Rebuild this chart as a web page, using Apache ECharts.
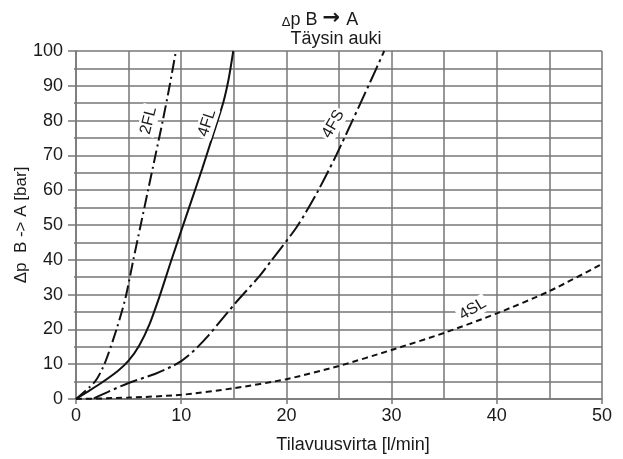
<!DOCTYPE html>
<html>
<head>
<meta charset="utf-8">
<script src="https://cdn.jsdelivr.net/npm/echarts@6/dist/echarts.min.js"></script>
<style>
html,body{margin:0;padding:0;background:#fff;}
#c{width:623px;height:459px;}
</style>
</head>
<body>
<div id="c"></div>
<script>
// ---- data ----
const flow2FL = [0, 1.8, 2.7, 3.85, 4.7, 5.45, 6.15, 6.85, 7.55, 8.25, 8.9, 9.5];
const dp2FL   = [0, 5, 10, 20, 29, 40, 50, 60, 70, 80, 90, 100];

const flow4FL = [0, 1, 2.5, 4, 5, 6, 7, 8, 9, 10, 11, 12, 13, 14, 14.5, 14.95];
const dp4FL   = [0, 1.9, 4.8, 8.1, 11, 15.3, 21.6, 30, 39.3, 48.3, 57.2, 66.2, 75.6, 85.2, 91.8, 100];

const flow4FS = [1.7, 3, 5, 7.5, 9, 10, 11.25, 12.6, 14, 15.45, 17.35, 18.5, 21, 22.95, 24.65, 26.2, 27.8, 29.3];
const dp4FS   = [0.2, 2, 4.6, 7.2, 9.2, 10.9, 14, 18.3, 23.4, 28.6, 35, 39.5, 49.5, 59.5, 69.5, 79.5, 90, 100];

const flow4SL = [0, 5, 10, 15, 20, 25, 30, 35, 40, 45, 50];
const dp4SL   = [0, 0.4, 1.2, 3.1, 5.7, 9.5, 14.1, 19, 24.6, 31, 38.8];

const curveNames = ['2FL', '4FL', '4FS', '4SL'];
const labelFlow  = [6.9, 12.45, 24.45, 37.7];
const labelDp    = [80, 79.3, 79, 25.8];
const labelAngle = [76, 72, 60, 31];

const xTickMin = 0, xTickMax = 50, xTickStep = 10;
const yTickMin = 0, yTickMax = 100, yTickStep = 10;

const titleLine2 = 'Täysin auki';
const xName = 'Tilavuusvirta [l/min]';
const yName = 'Δp  B -> A [bar]';

// ---- build ----
const pairs = (xs, ys) => xs.map((x, i) => [x, ys[i]]);
const FONT = '"Liberation Sans", Arial, Helvetica, sans-serif';
const gridColor = '#777';
const textColor = '#1a1a1a';

const dashTypes = [[13, 4, 2, 4], 'solid', [18, 4, 3, 4], [6, 4]];
const datasets = [pairs(flow2FL, dp2FL), pairs(flow4FL, dp4FL), pairs(flow4FS, dp4FS), pairs(flow4SL, dp4SL)];

const series = curveNames.map((n, i) => ({
  name: n,
  type: 'line',
  data: datasets[i],
  smooth: 0.25,
  symbol: 'none',
  z: 3,
  lineStyle: { color: '#111', width: 2, type: dashTypes[i] },
  markPoint: {
    silent: true,
    symbol: 'circle',
    symbolSize: 0,
    z: 5,
    data: [{ coord: [labelFlow[i], labelDp[i]], value: n }],
    label: {
      show: true,
      position: 'inside',
      formatter: n,
      rotate: labelAngle[i],
      color: textColor,
      fontSize: 16,
      fontFamily: FONT,
      backgroundColor: '#fff',
      padding: [1, 2]
    }
  }
}));

const chart = echarts.init(document.getElementById('c'), null, { renderer: 'canvas' });
chart.setOption({
  animation: false,
  backgroundColor: '#fff',
  title: [
    {
      text: '{d|Δ}{t|p B }{a|→}{t| A}',
      left: 315, top: 2, textAlign: 'center',
      textStyle: {
        fontFamily: FONT, fontSize: 18, fontWeight: 'normal', color: textColor,
        rich: {
          t: { fontSize: 18, fontFamily: FONT, color: textColor, verticalAlign: 'bottom', lineHeight: 20 },
          d: { fontSize: 13, fontFamily: FONT, color: textColor, verticalAlign: 'bottom', lineHeight: 20 },
          a: { fontSize: 21, fontWeight: 'bold', fontFamily: '"DejaVu Sans", sans-serif', color: textColor, verticalAlign: 'bottom', lineHeight: 22, padding: [0, 1, 0, 0] }
        }
      }
    },
    {
      text: titleLine2,
      left: 331, top: 25, textAlign: 'center',
      textStyle: { fontFamily: FONT, fontSize: 18, fontWeight: 'normal', color: textColor }
    }
  ],
  grid: { left: 76, right: 21, top: 51, bottom: 60, containLabel: false },
  xAxis: {
    type: 'value',
    min: xTickMin, max: xTickMax, interval: xTickStep,
    name: xName, nameLocation: 'middle', nameGap: 37,
    nameTextStyle: { fontFamily: FONT, fontSize: 18, color: textColor, padding: [0, 0, 0, 28] },
    axisLine: { show: true, lineStyle: { color: gridColor, width: 1.5 } },
    axisTick: { show: true, inside: false, length: 5, lineStyle: { color: gridColor, width: 1.5 } },
    minorTick: { show: false, splitNumber: 2 },
    axisLabel: { fontFamily: FONT, fontSize: 18, color: textColor, margin: 8 },
    splitLine: { show: true, lineStyle: { color: gridColor, width: 1.5 } },
    minorSplitLine: { show: true, lineStyle: { color: gridColor, width: 1.5 } }
  },
  yAxis: {
    type: 'value',
    min: yTickMin, max: yTickMax, interval: yTickStep,
    name: yName, nameLocation: 'middle', nameGap: 46, nameMoveOverlap: false,
    nameTextStyle: { fontFamily: FONT, fontSize: 17, color: textColor },
    axisLine: { show: true, lineStyle: { color: gridColor, width: 1.5 } },
    axisTick: { show: true, inside: false, length: 8, lineStyle: { color: gridColor, width: 1.5 } },
    minorTick: { show: true, splitNumber: 2, length: 2, lineStyle: { color: gridColor, width: 1.5 } },
    axisLabel: { fontFamily: FONT, fontSize: 18, color: textColor, margin: 13 },
    splitLine: { show: true, lineStyle: { color: gridColor, width: 1.5 } },
    minorSplitLine: { show: true, lineStyle: { color: gridColor, width: 1.5 } }
  },
  series: series
});
</script>
</body>
</html>
